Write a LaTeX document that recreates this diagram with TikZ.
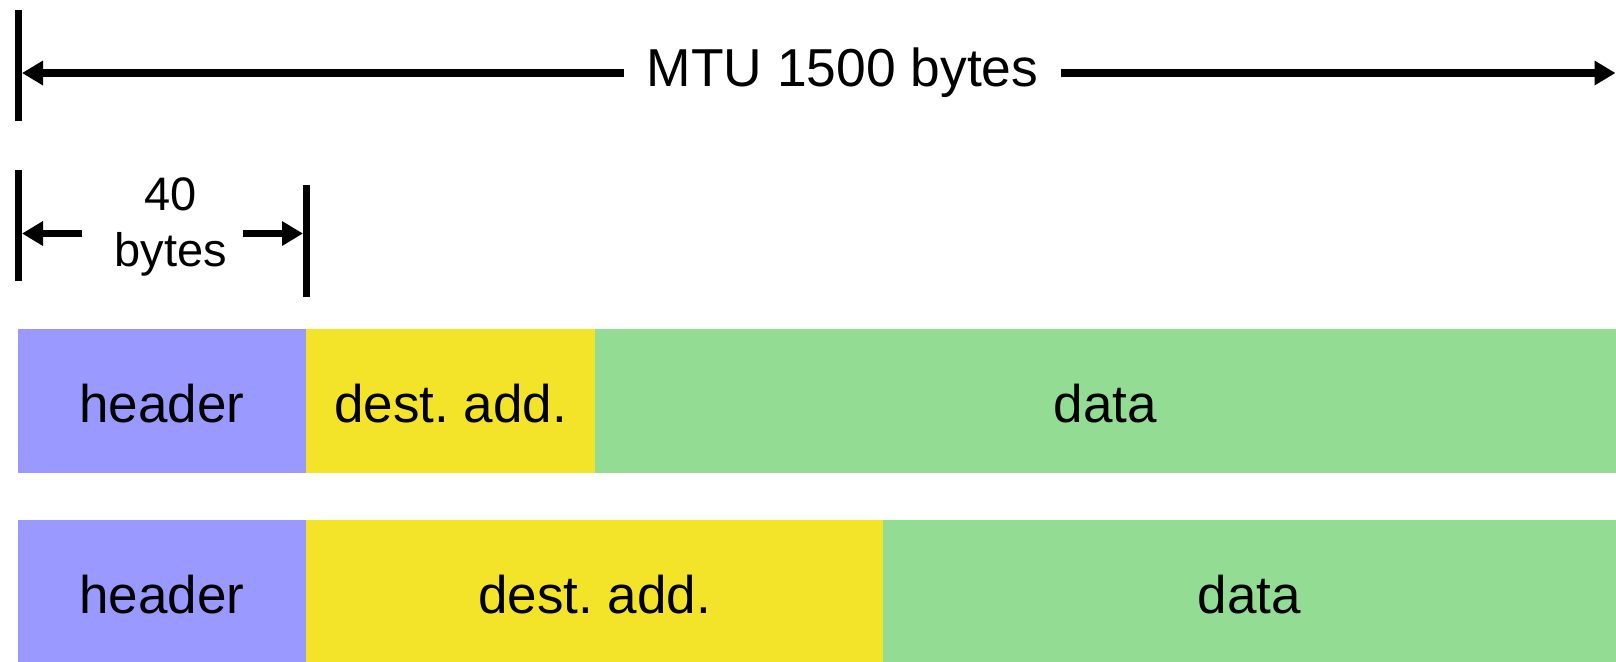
\documentclass[tikz,border=0pt]{standalone}
\usepackage{fontspec}
\setmainfont{Liberation Sans}
\usetikzlibrary{arrows.meta,positioning}

\definecolor{hdrblue}{RGB}{153,153,255}
\definecolor{addryellow}{RGB}{243,228,41}
\definecolor{datagreen}{RGB}{147,220,147}

\tikzset{
    field/.style={inner sep=0pt, outer sep=0pt, minimum height=72pt, text height=21pt, text depth=0pt, font=\fontsize{26.5}{32}\selectfont},
    dimtick/.style={line width=3.5pt},
    dimline/.style={line width=3.6pt, -{Triangle[length=10.5pt,width=11.7pt]}},
}

\begin{document}
\begin{tikzpicture}[x=0.5pt, y=-0.5pt]
            \useasboundingbox (0,0) rectangle (1616,661);
            % MTU dimension: end ticks, label and both arrows
            \draw[dimtick] (18.5,10) -- (18.5,121);
            \draw[dimtick] (1619,10) -- (1619,121);
            \coordinate (mtuL) at (22,73);
            \coordinate (mtuR) at (1615.5,73);
            \node[font=\fontsize{26.7}{32}\selectfont, inner xsep=11pt] (mtu) at (842.5,73) {MTU 1500 bytes};
            \draw[dimline] (mtu.west) -- (mtuL);
            \draw[dimline] (mtu.east) -- (mtuR);
            % header length dimension
            \draw[dimtick] (18.5,170) -- (18.5,281);
            \draw[dimtick] (306.5,185) -- (306.5,297);
            \node[font=\fontsize{23.5}{27.85}\selectfont, align=center, inner sep=0pt] (hdrlen) at (171,227) {40\\bytes};
            \coordinate (lenA) at (82,233.5);
            \coordinate (lenL) at (22,233.5);
            \coordinate (lenB) at (243,233.5);
            \coordinate (lenR) at (303,233.5);
            \draw[dimline] (lenA) -- (lenL);
            \draw[dimline] (lenB) -- (lenR);
            % first packet
            \node[field, fill=hdrblue, minimum width=144pt, anchor=north west] (hdrA) at (18,329) {header};
            \node[field, fill=addryellow, minimum width=144.5pt, right=0pt of hdrA] (addrA) {dest.\ add.};
            \node[field, fill=datagreen, minimum width=510.5pt, right=0pt of addrA] (dataA) {data};
            % second packet, longer address
            \node[field, fill=hdrblue, minimum width=144pt, below=23.5pt of hdrA] (hdrB) {header};
            \node[field, fill=addryellow, minimum width=288.5pt, right=0pt of hdrB] (addrB) {dest.\ add.};
            \node[field, fill=datagreen, minimum width=366.5pt, right=0pt of addrB] (dataB) {data};
        \end{tikzpicture}
\end{document}
